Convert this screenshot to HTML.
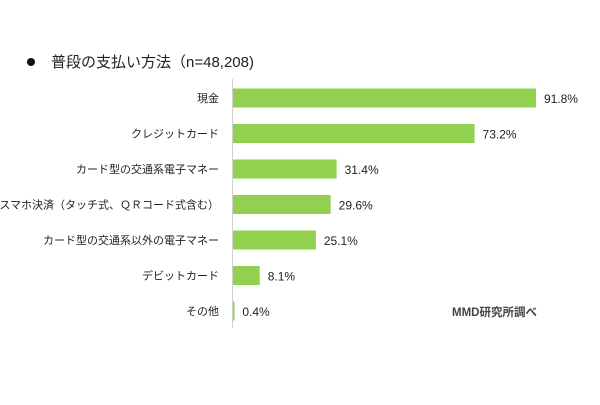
<!DOCTYPE html>
<html><head><meta charset="utf-8"><style>
body{margin:0;background:#fff;}
svg text{font-family:"Liberation Sans","Noto Sans CJK JP",sans-serif;}
</style></head><body>
<svg width="600" height="400" id="c">
<circle cx="31" cy="62" r="4" fill="#111"/>
<text x="51" y="67" font-size="15" fill="#222">普段の支払い方法（n=48,208)</text>
<line x1="232.5" y1="79" x2="232.5" y2="328" stroke="#d0d0d0" stroke-width="1"/>
<text x="452" y="316" font-size="11.5" font-weight="bold" fill="#444">MMD研究所調べ</text>
<g id="bars"></g>
</svg>
<script>
const categories=["現金","クレジットカード","カード型の交通系電子マネー","スマホ決済（タッチ式、ＱＲコード式含む）","カード型の交通系以外の電子マネー","デビットカード","その他"];
const values=[91.8,73.2,31.4,29.6,25.1,8.1,0.4];
const valueLabels=["91.8%","73.2%","31.4%","29.6%","25.1%","8.1%","0.4%"];
const NS="http://www.w3.org/2000/svg";
const x0=233,scale=3.3,top0=98,pitch=35.5,bh=19;
const xs=v=>x0+v*scale, ys=i=>top0+i*pitch;
const g=document.getElementById('bars');
categories.forEach((c,i)=>{
 const cy=ys(i);
 const r=document.createElementNS(NS,'rect');
 r.setAttribute('x',x0);r.setAttribute('y',cy-bh/2);
 r.setAttribute('width',Math.max(xs(values[i])-x0,1.5));r.setAttribute('height',bh);
 r.setAttribute('fill','#92d050');
 
 
 g.appendChild(r);
 const l=document.createElementNS(NS,'text');
 l.setAttribute('x',219);l.setAttribute('y',cy+4);l.setAttribute('text-anchor','end');
 l.setAttribute('font-size','11');l.setAttribute('fill','#222');l.textContent=c;
 
 
 g.appendChild(l);
 const v=document.createElementNS(NS,'text');
 v.setAttribute('x',xs(values[i])+8);v.setAttribute('y',cy+5);
 v.setAttribute('font-size','12');v.setAttribute('fill','#222');v.textContent=valueLabels[i];
 
 
 g.appendChild(v);
});
</script>
</body></html>
